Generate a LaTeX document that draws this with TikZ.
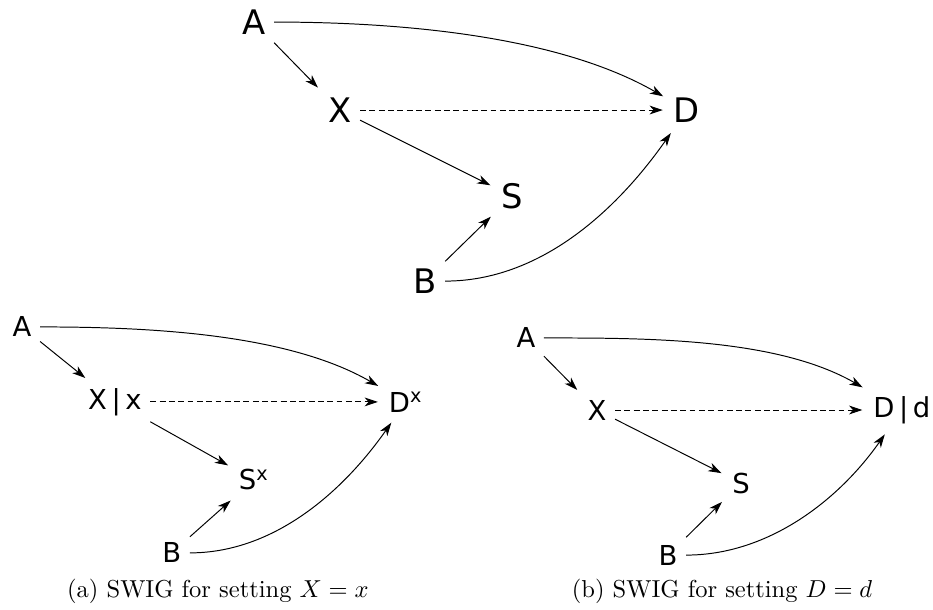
\documentclass[tikz,border=0pt]{standalone}
\usepackage{fontspec}
\setsansfont{DejaVu Sans}
\usepackage{tikz}
\usetikzlibrary{arrows.meta,positioning}
\usepackage{amsmath,amssymb}

\begin{document}
\begin{tikzpicture}[->,>={Stealth[length=5.4pt,width=3.6pt,inset=1.6pt]},shorten >=1pt,on grid,thin]
  \tikzstyle{big var}=[font=\sffamily\fontsize{13.8}{16}\selectfont]
  \tikzstyle{small var}=[font=\sffamily\fontsize{11.2}{13}\selectfont]
  \tikzstyle{effect}=[dash pattern=on 2.4pt off 1.4pt]
\useasboundingbox (0,0) rectangle (380.7pt,-248.9pt);

% full graph
\node[big var] (A) at (103.6pt,-9pt) {A};
\node[big var] (X) [below right=35.9pt and 35.1pt of A] {X};
\node[big var] (D) [right=141.6pt of X] {D};
\node[big var] (S) [below right=35.1pt and 70.2pt of X] {S};
\node[big var] (B) [below left=34.7pt and 35.5pt of S] {B};
\path
(A) edge (X)
(A) edge [out=0,in=150,looseness=0.8] (D)
(X) edge [effect] (D)
(X) edge (S)
(B) edge (S)
(B) edge [out=0,in=235,looseness=0.9] (D);

% (a) setting X=x
\node[small var] (aA) at (9pt,-133.4pt) {A};
\node[small var] (aX) [below right=30.6pt and 37.9pt of aA] {X\,|\,x};
\node[small var] (aD) [right=118.7pt of aX] {D\textsuperscript{x}};
\node[small var] (aS) [below right=31.8pt and 56.7pt of aX] {S\textsuperscript{x}};
\node[small var] (aB) [below left=29.8pt and 33.5pt of aS] {B};
\path
(aA) edge (aX)
(aA) edge [out=0,in=150,looseness=0.8] (aD)
(aX) edge [effect] (aD)
(aX) edge (aS)
(aB) edge (aS)
(aB) edge [out=0,in=235,looseness=0.9] (aD);
\node[-] (capa) at (88.9pt,-241.5pt) {(a) SWIG for setting $X=x$};

% (b) setting D=d
\node[small var] (bA) at (214.6pt,-137.9pt) {A};
\node[small var] (bX) [below right=29.4pt and 29pt of bA] {X};
\node[small var] (bD) [right=124.4pt of bX] {D\,|\,d};
\node[small var] (bS) [below right=29.8pt and 58.8pt of bX] {S};
\node[small var] (bB) [below left=29.4pt and 29.8pt of bS] {B};
\path
(bA) edge (bX)
(bA) edge [out=0,in=150,looseness=0.8] (bD)
(bX) edge [effect] (bD)
(bX) edge (bS)
(bB) edge (bS)
(bB) edge [out=0,in=235,looseness=0.9] (bD);
\node[-] (capb) at (294.6pt,-241.5pt) {(b) SWIG for setting $D=d$};
\end{tikzpicture}
\end{document}
